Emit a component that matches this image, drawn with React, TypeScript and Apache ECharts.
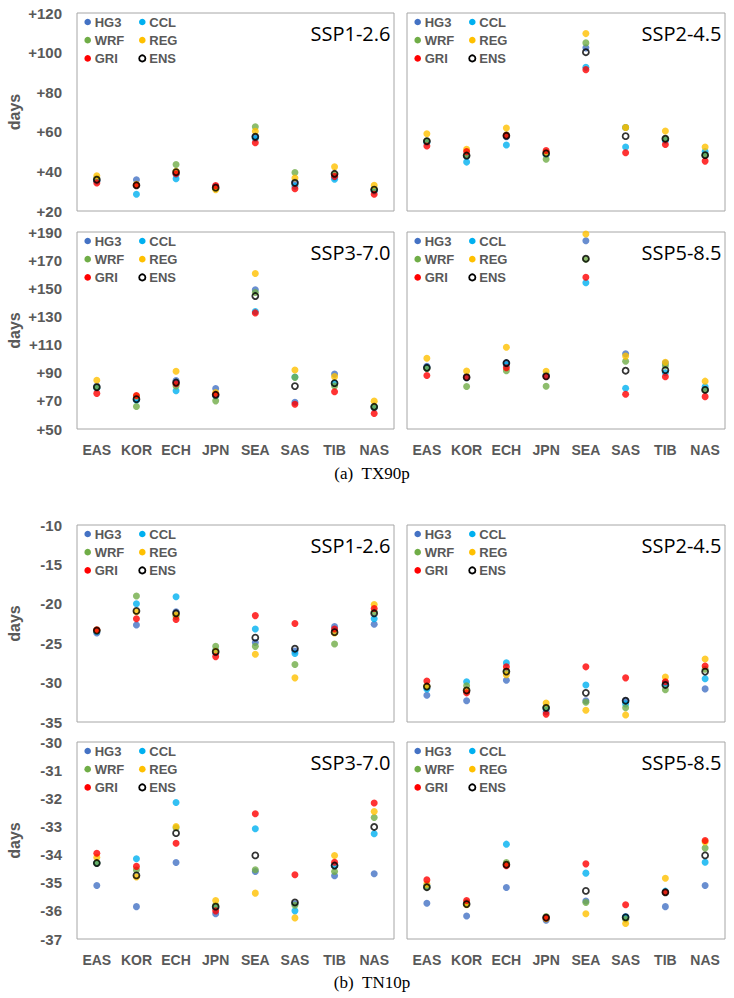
import React, { useEffect, useRef } from "react";
import * as echarts from "echarts";

// ---------- data ----------
const REGIONS = ["EAS", "KOR", "ECH", "JPN", "SEA", "SAS", "TIB", "NAS"];
const MODELS = ["HG3", "CCL", "WRF", "REG", "GRI", "ENS"];
const SCENARIOS = ["SSP1-2.6", "SSP2-4.5", "SSP3-7.0", "SSP5-8.5"];

const TX_TICKS_UPPER = [20, 40, 60, 80, 100, 120];
const TX_TICKS_LOWER = [50, 70, 90, 110, 130, 150, 170, 190];
const TN_TICKS_UPPER = [-35, -30, -25, -20, -15, -10];
const TN_TICKS_LOWER = [-37, -36, -35, -34, -33, -32, -31, -30];

// rows: HG3, CCL, WRF, REG, GRI, ENS ; columns: REGIONS
const TX90P_SSP126 = [
  [35.5, 35.8, 38.5, 32.5, 57.5, 34.8, 37.0, 30.5],
  [35.0, 28.5, 36.3, 31.5, 56.5, 32.5, 36.0, 30.0],
  [36.5, 33.0, 43.5, 31.5, 62.5, 39.4, 38.5, 31.0],
  [37.8, 33.5, 40.0, 30.8, 60.3, 36.7, 42.3, 33.0],
  [34.2, 33.0, 38.8, 32.8, 54.5, 31.2, 37.5, 28.5],
  [35.8, 33.0, 39.6, 31.8, 57.5, 34.2, 38.8, 30.8],
];
const TX90P_SSP245 = [
  [55.0, 47.5, 57.5, 49.5, 102.4, 62.2, 56.0, 48.0],
  [54.5, 44.7, 53.3, 48.5, 92.6, 52.3, 55.5, 50.0],
  [55.3, 48.1, 58.5, 46.1, 104.9, 62.2, 56.5, 48.3],
  [59.0, 51.2, 61.9, 49.5, 109.6, 62.2, 60.4, 52.3],
  [52.8, 50.0, 58.2, 50.6, 91.4, 49.4, 53.6, 45.2],
  [55.3, 48.0, 58.0, 49.1, 100.2, 57.8, 56.5, 48.2],
];
const TX90P_SSP370 = [
  [80.5, 72.0, 84.5, 78.8, 149.0, 69.0, 89.0, 65.0],
  [79.0, 70.5, 77.2, 73.5, 133.5, 87.0, 82.5, 66.0],
  [79.5, 66.0, 80.5, 70.0, 147.0, 86.7, 80.5, 65.7],
  [84.7, 73.5, 91.0, 76.0, 160.5, 91.9, 87.2, 69.8],
  [75.3, 73.8, 82.2, 74.5, 132.5, 67.6, 76.5, 61.0],
  [79.8, 71.2, 83.0, 74.3, 144.5, 80.5, 82.6, 65.8],
];
const TX90P_SSP585 = [
  [94.5, 87.5, 97.0, 88.0, 183.8, 103.4, 96.8, 78.0],
  [93.5, 86.5, 95.5, 88.5, 154.0, 79.0, 90.0, 80.0],
  [93.0, 80.2, 91.4, 80.4, 170.7, 98.1, 95.0, 77.8],
  [100.3, 91.2, 108.1, 91.0, 188.6, 101.8, 97.4, 84.0],
  [88.0, 86.8, 93.5, 87.3, 157.8, 74.7, 87.1, 73.0],
  [93.5, 86.7, 96.9, 87.4, 171.0, 91.4, 91.8, 77.8],
];
const TN10P_SSP126 = [
  [-23.7, -22.7, -21.0, -26.2, -24.9, -26.0, -22.9, -22.6],
  [-23.5, -20.0, -19.1, -25.9, -23.2, -26.3, -23.4, -21.9],
  [-23.3, -19.0, -21.6, -25.4, -25.4, -27.7, -25.1, -21.0],
  [-23.4, -21.0, -21.4, -26.0, -26.4, -29.4, -23.7, -20.1],
  [-23.3, -21.9, -22.0, -26.7, -21.5, -22.5, -23.2, -20.6],
  [-23.4, -20.9, -21.2, -26.1, -24.3, -25.7, -23.6, -21.2],
];
const TN10P_SSP245 = [
  [-31.6, -32.3, -29.7, -33.7, -32.3, -32.3, -30.0, -30.8],
  [-30.8, -29.9, -27.5, -33.3, -30.3, -32.7, -30.2, -29.5],
  [-30.5, -30.4, -28.5, -33.1, -32.5, -33.2, -30.9, -28.3],
  [-30.4, -31.0, -29.0, -32.6, -33.5, -34.1, -29.3, -27.0],
  [-29.8, -31.3, -28.0, -34.0, -28.0, -29.4, -29.9, -27.9],
  [-30.5, -31.0, -28.6, -33.2, -31.3, -32.3, -30.3, -28.6],
];
const TN10P_SSP370 = [
  [-35.1, -35.85, -34.28, -36.1, -34.6, -35.75, -34.75, -34.68],
  [-34.3, -34.15, -32.15, -35.9, -33.08, -36.0, -34.4, -33.26],
  [-34.3, -34.55, -33.05, -35.8, -34.54, -35.8, -34.6, -32.68],
  [-34.1, -34.8, -33.0, -35.63, -35.37, -36.25, -34.03, -32.47],
  [-33.95, -34.42, -33.6, -36.0, -32.55, -34.72, -34.27, -32.17],
  [-34.3, -34.74, -33.24, -35.85, -34.03, -35.7, -34.39, -33.02],
];
const TN10P_SSP585 = [
  [-35.73, -36.18, -35.17, -36.33, -35.65, -36.2, -35.85, -35.1],
  [-35.1, -35.75, -33.63, -36.25, -34.66, -36.22, -35.3, -34.27],
  [-35.15, -35.7, -34.28, -36.2, -35.7, -36.3, -35.35, -33.77],
  [-35.05, -35.78, -34.35, -36.28, -36.1, -36.45, -34.84, -33.55],
  [-34.9, -35.63, -34.4, -36.25, -34.33, -35.78, -35.34, -33.5],
  [-35.16, -35.76, -34.36, -36.24, -35.29, -36.23, -35.34, -34.03],
];

const CAPTIONS = ["(a)\u00a0\u00a0TX90p", "(b)\u00a0\u00a0TN10p"];

// ---------- style / layout ----------
const MODEL_COLORS = ["#4472C4", "#00B0F0", "#70AD47", "#FFC000", "#FF0000", "#000000"];
const GRAY = "#595959";
const SANS = '"Liberation Sans", Arial, sans-serif';
const COL_LEFT = [77, 407];
const COL_WIDTH = [317, 318];
const ROW_TOP = [13, 232, 525, 742];
const ROW_HEIGHT = [198, 197, 197, 197];

type Panel = { data: number[][]; ticks: number[]; scenario: string; col: number; row: number; signed: boolean };

const PANELS: Panel[] = [
  { data: TX90P_SSP126, ticks: TX_TICKS_UPPER, scenario: SCENARIOS[0], col: 0, row: 0, signed: true },
  { data: TX90P_SSP245, ticks: TX_TICKS_UPPER, scenario: SCENARIOS[1], col: 1, row: 0, signed: true },
  { data: TX90P_SSP370, ticks: TX_TICKS_LOWER, scenario: SCENARIOS[2], col: 0, row: 1, signed: true },
  { data: TX90P_SSP585, ticks: TX_TICKS_LOWER, scenario: SCENARIOS[3], col: 1, row: 1, signed: true },
  { data: TN10P_SSP126, ticks: TN_TICKS_UPPER, scenario: SCENARIOS[0], col: 0, row: 2, signed: false },
  { data: TN10P_SSP245, ticks: TN_TICKS_UPPER, scenario: SCENARIOS[1], col: 1, row: 2, signed: false },
  { data: TN10P_SSP370, ticks: TN_TICKS_LOWER, scenario: SCENARIOS[2], col: 0, row: 3, signed: false },
  { data: TN10P_SSP585, ticks: TN_TICKS_LOWER, scenario: SCENARIOS[3], col: 1, row: 3, signed: false },
];

function buildOption() {
  const grid: any[] = [];
  const xAxis: any[] = [];
  const yAxis: any[] = [];
  const series: any[] = [];
  const graphic: any[] = [];

  PANELS.forEach((p, i) => {
    const L = COL_LEFT[p.col];
    const W = COL_WIDTH[p.col];
    const T = ROW_TOP[p.row];
    const H = ROW_HEIGHT[p.row];
    grid.push({
      left: L, top: T, width: W, height: H,
      show: true, borderColor: "#a6a6a6", borderWidth: 1, backgroundColor: "transparent",
    });
    const bottomRow = p.row === 1 || p.row === 3;
    xAxis.push({
      type: "category", gridIndex: i, data: REGIONS, boundaryGap: true,
      axisLine: { show: false }, axisTick: { show: false }, splitLine: { show: false },
      axisLabel: {
        show: bottomRow, interval: 0, margin: 14, color: GRAY,
        fontWeight: "bold", fontSize: 14, fontFamily: SANS,
      },
    });
    const fmt = p.signed
      ? (v: number) => (v > 0 ? "+" : "") + v
      : (v: number) => String(v);
    yAxis.push({
      type: "value", gridIndex: i,
      min: p.ticks[0], max: p.ticks[p.ticks.length - 1],
      axisLine: { show: false }, axisTick: { show: false }, splitLine: { show: false },
      axisLabel: {
        show: p.col === 0, customValues: p.ticks, formatter: fmt, margin: 15,
        color: GRAY, fontWeight: "bold", fontSize: 15, fontFamily: SANS,
        showMinLabel: true, showMaxLabel: true,
      },
      name: p.col === 0 ? "days" : "",
      nameLocation: "middle", nameRotate: 90, nameGap: 55,
      nameTextStyle: { color: GRAY, fontWeight: "bold", fontSize: 16, fontFamily: SANS },
    });

    MODELS.forEach((m, k) => {
      const isEns = k === 5;
      series.push({
        type: "scatter", name: m, xAxisIndex: i, yAxisIndex: i,
        data: p.data[k], symbol: "circle", symbolSize: isEns ? 6 : 7,
        itemStyle: isEns
          ? { color: "rgba(255,255,255,0)", borderColor: "#000", borderWidth: 1.8 }
          : { color: MODEL_COLORS[k] },
        z: 2 + k, silent: true,
      });
    });

    // scenario title
    graphic.push({
      type: "text", x: L + W - 3.5, y: T + 20,
      style: {
        text: p.scenario, fill: "#000", font: '20px "Open Sans", "Noto Sans", sans-serif',
        textAlign: "right", textVerticalAlign: "middle",
      },
    });

    // legend
    MODELS.forEach((m, k) => {
      const c = k % 2;
      const r = Math.floor(k / 2);
      const mx = L + (c === 0 ? 10.7 : 65.3);
      const my = T + 9 + r * 18.2;
      if (k === 5) {
        graphic.push({
          type: "circle", shape: { cx: mx, cy: my, r: 3.1 },
          style: { fill: "none", stroke: "#000", lineWidth: 1.8 },
        });
      } else {
        graphic.push({
          type: "circle", shape: { cx: mx, cy: my, r: 3.3 },
          style: { fill: MODEL_COLORS[k] },
        });
      }
      graphic.push({
        type: "text", x: mx + 7, y: my,
        style: {
          text: m, fill: GRAY, font: `bold 13px ${SANS}`,
          textAlign: "left", textVerticalAlign: "middle",
        },
      });
    });
  });

  // captions
  graphic.push({
    type: "text", x: 372, y: 473,
    style: { text: CAPTIONS[0], fill: "#000", font: '17px "Liberation Serif", "Times New Roman", serif', textAlign: "center", textVerticalAlign: "middle" },
  });
  graphic.push({
    type: "text", x: 372, y: 982,
    style: { text: CAPTIONS[1], fill: "#000", font: '17px "Liberation Serif", "Times New Roman", serif', textAlign: "center", textVerticalAlign: "middle" },
  });

  return {
    animation: false,
    backgroundColor: "#ffffff",
    grid, xAxis, yAxis, series, graphic,
  };
}

export default function App() {
  const ref = useRef<HTMLDivElement>(null);
  useEffect(() => {
    document.body.style.margin = "0";
    if (!ref.current) return;
    const chart = echarts.init(ref.current, undefined, { renderer: "svg" });
    chart.setOption(buildOption() as any);
    return () => chart.dispose();
  }, []);
  return <div ref={ref} style={{ width: 734, height: 998, position: "absolute", left: 0, top: 0 }} />;
}
